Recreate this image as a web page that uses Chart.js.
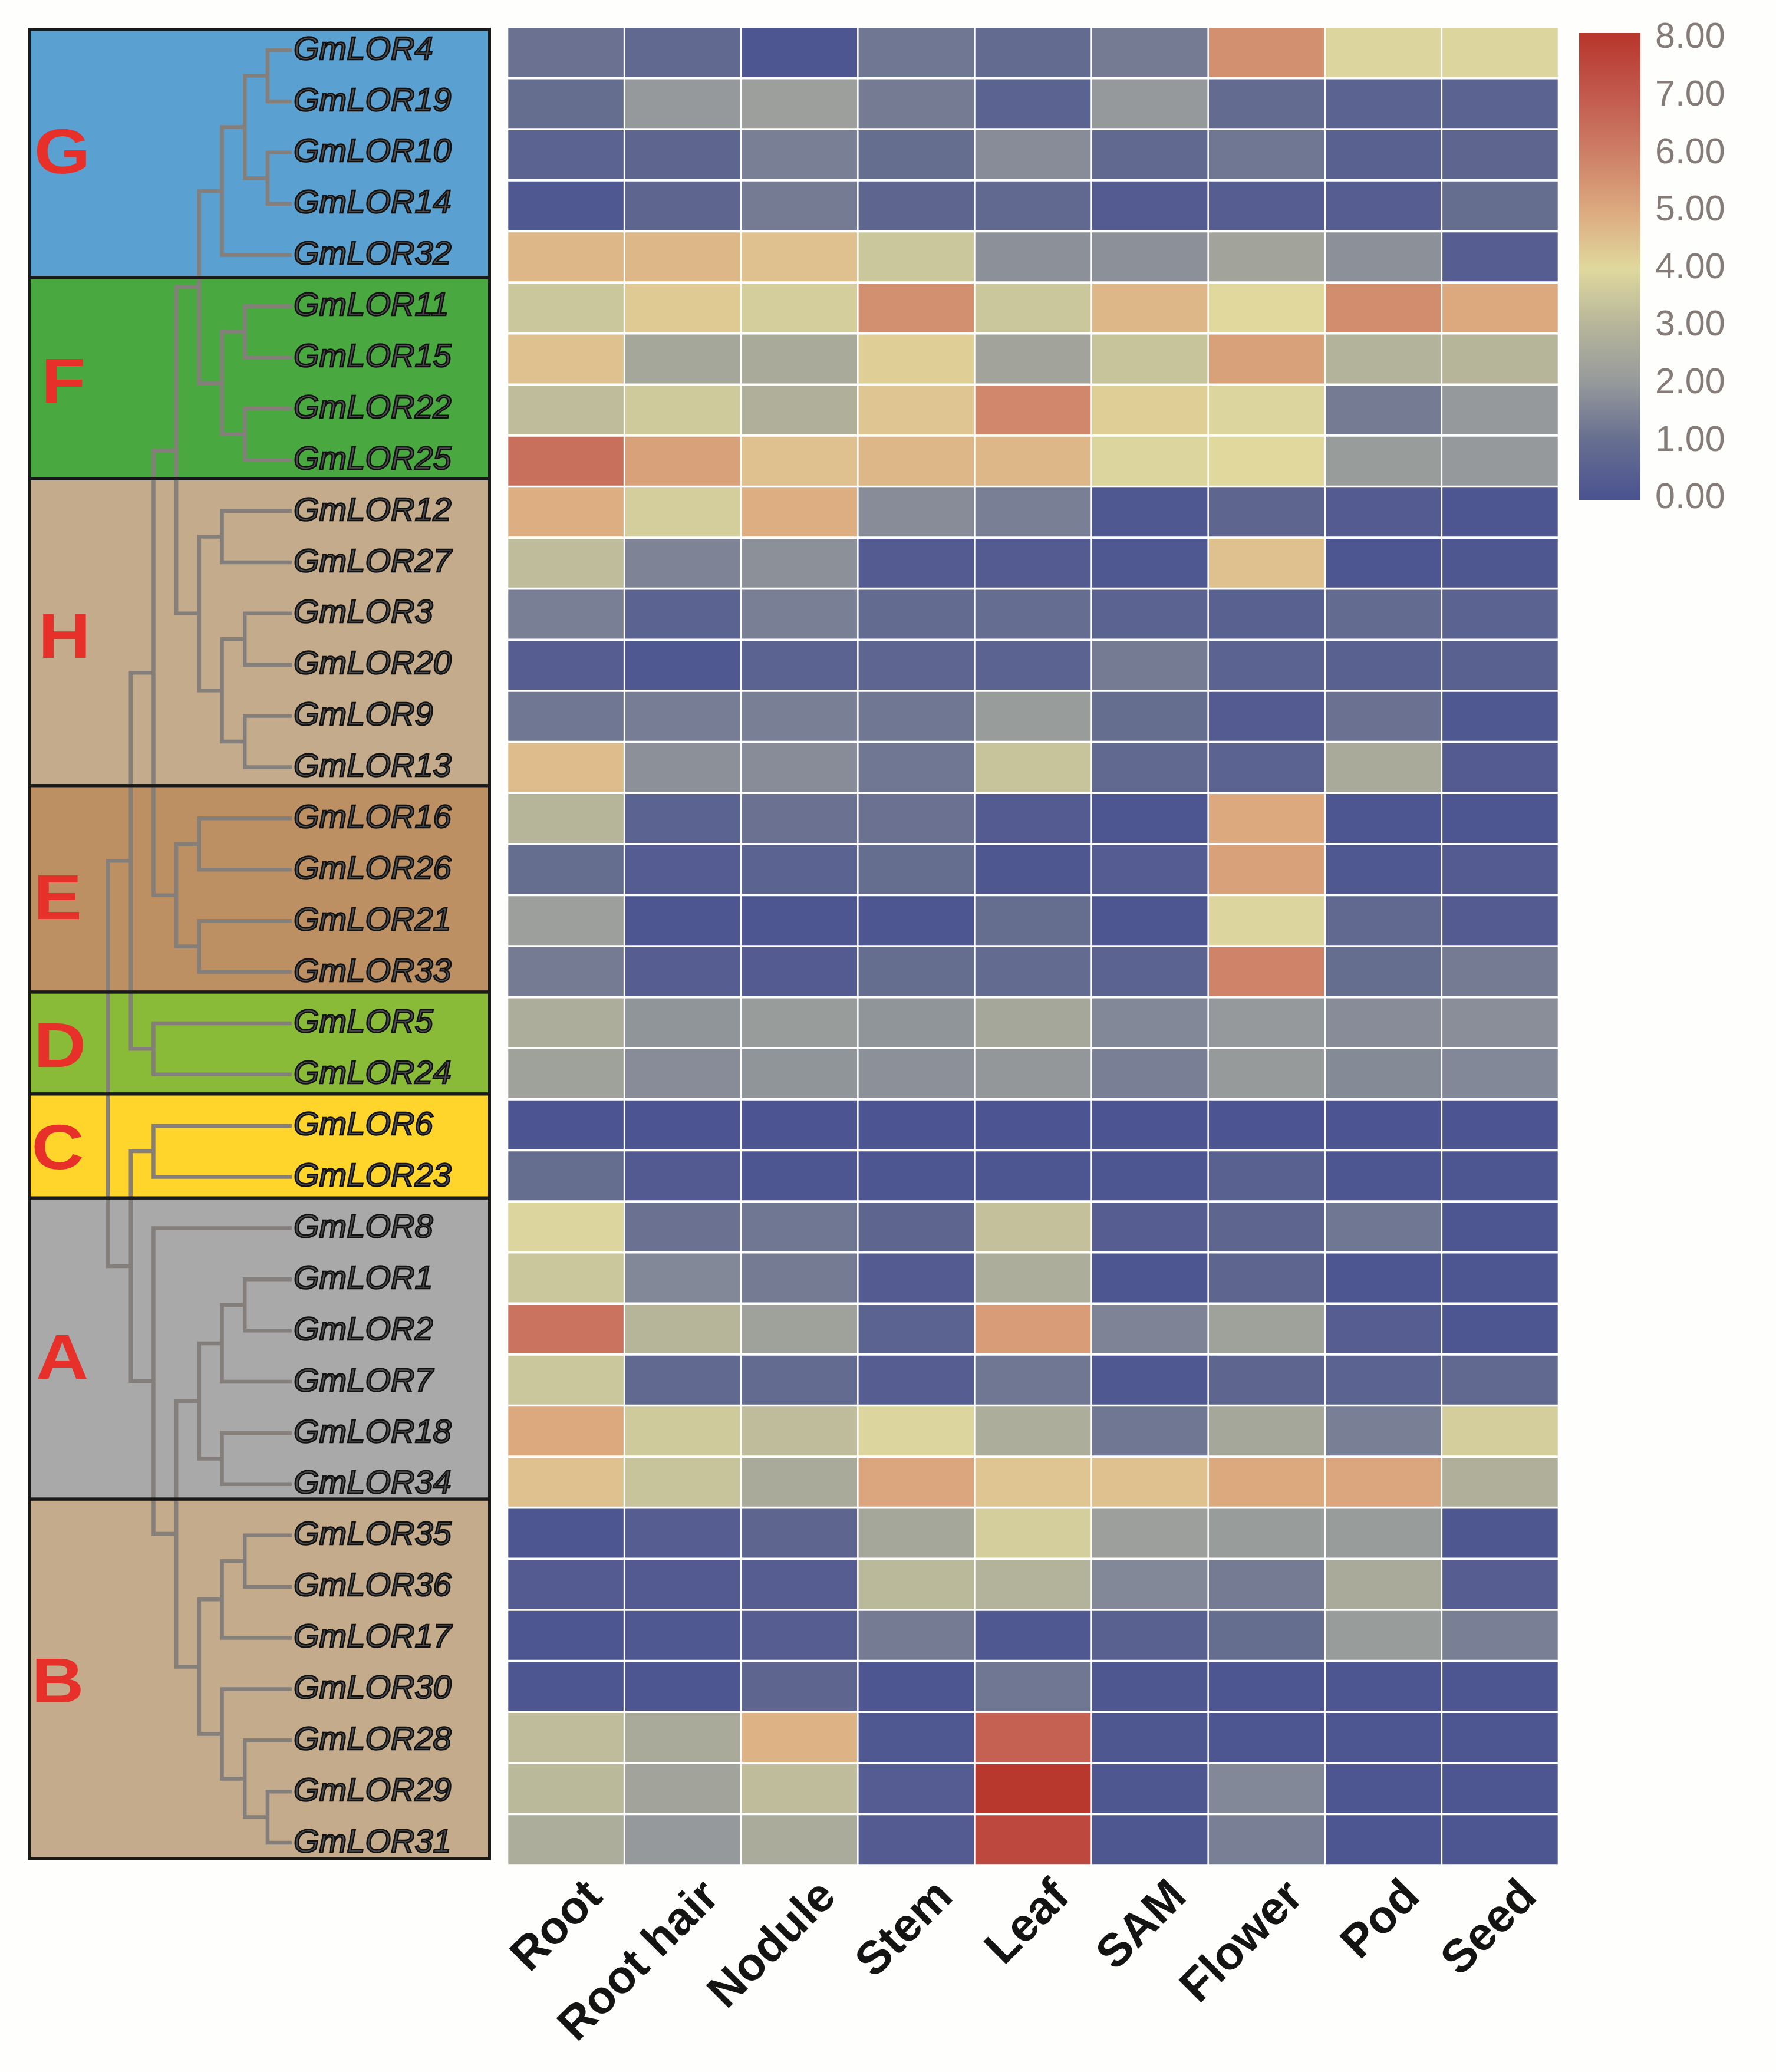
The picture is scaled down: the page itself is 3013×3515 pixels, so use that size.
<!DOCTYPE html>
<html>
<head>
<meta charset="utf-8">
<title>GmLOR expression heatmap</title>
<script src="https://cdn.jsdelivr.net/npm/chart.js@4"></script>
<style>
  html, body { margin: 0; padding: 0; background: #fefefc; width: 3013px; height: 3515px; overflow: hidden; }
  canvas { position: absolute; }
  #tree { left: 40px; top: 40px; }
  #heat { left: 861px; top: 46px; }
  #bar { left: 2650px; top: 0; }
</style>
</head>
<body>
<canvas id="tree" width="800" height="3125"></canvas>
<canvas id="heat" width="1783" height="3469"></canvas>
<canvas id="bar" width="363" height="900"></canvas>
<script>
const tissues = ["Root", "Root hair", "Nodule", "Stem", "Leaf", "SAM", "Flower", "Pod", "Seed"];
const genes = [4, 19, 10, 14, 32, 11, 15, 22, 25, 12, 27, 3, 20, 9, 13, 16, 26, 21, 33, 5, 24, 6, 23, 8, 1, 2, 7, 18, 34, 35, 36, 17, 30, 28, 29, 31];

// one row per gene, same order as genes, columns as tissues
const expression = [
  [1.1, 0.8, 0.1, 1.2, 0.9, 1.3, 5.6, 3.9, 3.9],
  [1.0, 2.0, 2.2, 1.3, 0.6, 2.0, 0.9, 0.6, 0.6],
  [0.6, 0.7, 1.4, 1.0, 1.7, 0.8, 1.2, 0.5, 0.7],
  [0.2, 0.7, 1.3, 0.7, 0.8, 0.3, 0.4, 0.4, 1.0],
  [4.7, 4.7, 4.5, 3.5, 1.8, 1.8, 2.4, 1.8, 0.4],
  [3.5, 4.3, 3.7, 5.6, 3.5, 4.7, 4.0, 5.7, 5.0],
  [4.5, 2.5, 2.6, 4.2, 2.4, 3.4, 5.2, 2.9, 3.0],
  [3.2, 3.6, 2.8, 4.4, 5.8, 4.2, 3.9, 1.3, 2.0],
  [6.4, 5.2, 4.5, 4.7, 4.7, 3.9, 4.0, 2.1, 2.0],
  [4.9, 3.7, 4.9, 1.7, 1.4, 0.2, 0.7, 0.3, 0.1],
  [3.2, 1.5, 1.8, 0.3, 0.3, 0.2, 4.5, 0.1, 0.15],
  [1.4, 0.6, 1.4, 0.9, 0.95, 0.6, 0.5, 0.9, 0.6],
  [0.4, 0.2, 0.6, 0.65, 0.6, 1.3, 0.6, 0.5, 0.5],
  [1.2, 1.35, 1.4, 1.2, 2.1, 1.0, 0.3, 1.1, 0.2],
  [4.6, 1.8, 1.7, 1.2, 3.4, 0.8, 0.6, 2.6, 0.3],
  [3.0, 0.6, 1.1, 1.1, 0.3, 0.1, 5.0, 0.1, 0.1],
  [1.0, 0.35, 0.6, 1.0, 0.15, 0.35, 5.2, 0.2, 0.3],
  [2.2, 0.1, 0.1, 0.1, 1.0, 0.1, 3.9, 0.8, 0.3],
  [1.3, 0.4, 0.3, 1.0, 0.9, 0.6, 5.9, 1.0, 1.3],
  [2.7, 1.9, 2.1, 1.9, 2.5, 1.6, 2.0, 1.7, 1.75],
  [2.3, 1.7, 1.9, 1.8, 1.95, 1.4, 2.05, 1.65, 1.6],
  [0.05, 0.05, 0.05, 0.05, 0.05, 0.05, 0.05, 0.05, 0.05],
  [1.0, 0.25, 0.1, 0.1, 0.1, 0.1, 0.5, 0.1, 0.1],
  [3.9, 1.1, 1.2, 0.7, 3.3, 0.4, 0.7, 1.2, 0.1],
  [3.5, 1.6, 1.3, 0.3, 2.7, 0.1, 0.7, 0.1, 0.1],
  [6.3, 3.0, 2.3, 0.6, 5.3, 1.5, 2.3, 0.4, 0.1],
  [3.5, 0.8, 0.9, 0.4, 1.2, 0.2, 0.7, 0.6, 0.8],
  [5.0, 3.6, 3.2, 3.9, 2.7, 1.2, 2.5, 1.4, 3.7],
  [4.5, 3.4, 2.6, 5.1, 4.4, 4.5, 5.0, 5.1, 2.8],
  [0.1, 0.4, 0.7, 2.5, 3.7, 2.2, 2.1, 2.1, 0.15],
  [0.3, 0.25, 0.4, 3.1, 2.9, 1.6, 1.3, 2.6, 0.4],
  [0.1, 0.2, 0.4, 1.3, 0.2, 0.5, 1.0, 2.1, 1.4],
  [0.1, 0.1, 0.7, 0.1, 1.2, 0.15, 0.1, 0.1, 0.1],
  [3.2, 2.6, 4.8, 0.2, 6.8, 0.15, 0.1, 0.1, 0.1],
  [3.1, 2.4, 3.2, 0.35, 8.0, 0.15, 1.6, 0.1, 0.1],
  [2.7, 2.0, 2.65, 0.3, 7.5, 0.15, 1.4, 0.1, 0.1],
];

const scaleColors = ["#4b5391", "#666e90", "#95999b", "#b6b59a", "#e0d89d", "#dca97f", "#cd7f66", "#c25a4e", "#b8382d"];

// [depth, child, child], a number child is a gene
const tree = [0,
  [1,
    [2,
      [3,
        [4,
          [5, [6, [7, 4, 19], [7, 10, 14]], 32],
          [5, [6, 11, 15], [6, 22, 25]]],
        [4, [5, 12, 27], [5, [6, 3, 20], [6, 9, 13]]]],
      [3, [4, 16, 26], [4, 21, 33]]],
    [2, 5, 24]],
  [1,
    [2, 6, 23],
    [2, 8,
      [3,
        [4, [5, [6, 1, 2], 7], [5, 18, 34]],
        [4, [5, [6, 35, 36], 17], [5, 30, [6, 28, [7, 29, 31]]]]]]]];

const cladeNames = ["G", "F", "H", "E", "D", "C", "A", "B"];
const cladeEdges = [0.096, 4.94, 8.87, 14.86, 18.89, 20.88, 22.91, 28.79, 35.81];
const cladeColors = ["#5aa0d0", "#49a840", "#c3ab8b", "#bd9063", "#8abb38", "#ffd52b", "#a9a9a9", "#c3ab8b"];
const cladeLetterDepth = [-2.0, -1.95, -1.9, -2.2, -2.1, -2.2, -2.0, -2.2];
const cladeLetterRow = [2.49, 6.97, 11.95, 17.05, 19.94, 21.93, 26.03, 32.35];

const leafDepth = 8.06;
const geneLabelDepth = 8.14;

function colorFor(value) {
  const i = Math.min(Math.floor(value), scaleColors.length - 2);
  const t = value - i;
  const a = scaleColors[i], b = scaleColors[i + 1];
  const mix = (k) => {
    const p = parseInt(a.substr(k, 2), 16), q = parseInt(b.substr(k, 2), 16);
    return Math.round(p + (q - p) * t);
  };
  return `rgb(${mix(1)},${mix(3)},${mix(5)})`;
}

// walk the tree, every inner node gives one bracket to draw
const brackets = [];
function walk(node) {
  if (typeof node === "number") {
    return { depth: leafDepth, y: genes.indexOf(node) + 0.5 };
  }
  const a = walk(node[1]);
  const b = walk(node[2]);
  brackets.push([
    { x: a.depth, y: a.y },
    { x: node[0], y: a.y },
    { x: node[0], y: b.y },
    { x: b.depth, y: b.y },
  ]);
  return { depth: node[0], y: (a.y + b.y) / 2 };
}
walk(tree);

const cladePanels = {
  id: "cladePanels",
  beforeDatasetsDraw(chart) {
    const { ctx, chartArea, scales } = chart;
    cladeNames.forEach((name, i) => {
      const top = scales.y.getPixelForValue(cladeEdges[i]);
      const bottom = scales.y.getPixelForValue(cladeEdges[i + 1]);
      ctx.fillStyle = cladeColors[i];
      ctx.fillRect(chartArea.left, top, chartArea.right - chartArea.left, bottom - top);
    });
  },
  afterDatasetsDraw(chart) {
    const { ctx, chartArea, scales } = chart;
    ctx.save();
    ctx.strokeStyle = "#1a1a1a";
    ctx.lineWidth = 5;
    cladeNames.forEach((name, i) => {
      const top = scales.y.getPixelForValue(cladeEdges[i]);
      const bottom = scales.y.getPixelForValue(cladeEdges[i + 1]);
      ctx.strokeRect(chartArea.left, top, chartArea.right - chartArea.left, bottom - top);

      // the letters are a bit wider than the plain font
      ctx.save();
      ctx.translate(scales.x.getPixelForValue(cladeLetterDepth[i]), scales.y.getPixelForValue(cladeLetterRow[i]) + 6);
      ctx.scale(1.14, 1);
      ctx.fillStyle = "#e8302a";
      ctx.font = "bold 108px 'Liberation Sans'";
      ctx.textAlign = "center";
      ctx.textBaseline = "middle";
      ctx.fillText(name, 0, 0);
      ctx.restore();
    });

    ctx.font = "italic 56px 'Liberation Sans'";
    ctx.textAlign = "left";
    ctx.textBaseline = "middle";
    ctx.lineWidth = 2.5;
    ctx.strokeStyle = "#111111";
    ctx.fillStyle = "#4c4c4e";
    genes.forEach((gene, i) => {
      const x = scales.x.getPixelForValue(geneLabelDepth);
      const y = scales.y.getPixelForValue(i + 0.5);
      ctx.fillText(`GmLOR${gene}`, x, y);
      ctx.strokeText(`GmLOR${gene}`, x, y);
    });
    ctx.restore();
  },
};

new Chart(document.getElementById("tree"), {
  type: "scatter",
  data: {
    datasets: brackets.map((points) => ({
      data: points,
      showLine: true,
      borderColor: "#857f7b",
      borderWidth: 6.5,
      borderJoinStyle: "miter",
      pointRadius: 0,
      tension: 0,
    })),
  },
  plugins: [cladePanels],
  options: {
    responsive: false,
    animation: false,
    devicePixelRatio: 1,
    layout: { autoPadding: false, padding: { left: 9.5, right: 9.5, top: 10, bottom: 12 } },
    plugins: { legend: { display: false }, tooltip: { enabled: false } },
    scales: {
      x: { type: "linear", display: false, min: -3.45, max: 16.73 },
      y: { type: "linear", display: false, reverse: true, min: 0.096, max: 35.81 },
    },
  },
});

new Chart(document.getElementById("heat"), {
  type: "bar",
  data: {
    labels: tissues,
    datasets: genes.map((gene, row) => ({
      label: `GmLOR${gene}`,
      data: tissues.map(() => 1),
      backgroundColor: expression[row].map(colorFor),
      borderColor: "#ffffff",
      borderWidth: { left: 1.6, right: 1.6, top: 2.2, bottom: 2.2 },
      borderSkipped: false,
      barPercentage: 1,
      categoryPercentage: 1,
    })),
  },
  options: {
    responsive: false,
    animation: false,
    devicePixelRatio: 1,
    layout: { autoPadding: false },
    plugins: { legend: { display: false }, tooltip: { enabled: false } },
    scales: {
      x: {
        stacked: true,
        grid: { display: false, drawTicks: false },
        border: { display: false },
        afterFit(scale) {
          scale.height = 351;
          scale.paddingLeft = 0;
          scale.paddingRight = 0;
        },
        ticks: {
          autoSkip: false,
          minRotation: 45,
          maxRotation: 45,
          labelOffset: 50,
          padding: 8,
          color: "#141414",
          font: { family: "'Liberation Sans'", size: 79, weight: "bold" },
        },
      },
      y: { stacked: true, display: false, reverse: true, min: 0, max: genes.length },
    },
  },
});

const barMin = -0.026;
const barMax = 8.087;

new Chart(document.getElementById("bar"), {
  type: "bar",
  data: {
    labels: [""],
    datasets: [
      {
        data: [[barMin, barMax]],
        barPercentage: 1,
        categoryPercentage: 1,
        backgroundColor(ctx) {
          const { chart } = ctx;
          if (!chart.chartArea) return scaleColors[0];
          const y = chart.scales.y;
          const gradient = chart.ctx.createLinearGradient(0, y.getPixelForValue(0), 0, y.getPixelForValue(8));
          scaleColors.forEach((color, i) => gradient.addColorStop(i / 8, color));
          return gradient;
        },
      },
    ],
  },
  options: {
    responsive: false,
    animation: false,
    devicePixelRatio: 1,
    layout: { autoPadding: false, padding: { left: 29, top: 56, bottom: 52 } },
    plugins: { legend: { display: false }, tooltip: { enabled: false } },
    scales: {
      x: { display: false },
      y: {
        position: "right",
        min: barMin,
        max: barMax,
        grid: { display: false, drawTicks: false },
        border: { display: false },
        afterFit(scale) {
          scale.width = 230;
          scale.paddingTop = 0;
          scale.paddingBottom = 0;
        },
        ticks: {
          stepSize: 1,
          includeBounds: false,
          padding: 25,
          color: "#857c78",
          font: { family: "'Liberation Sans'", size: 61 },
          callback: (value) => value.toFixed(2),
        },
      },
    },
  },
});
</script>
</body>
</html>
